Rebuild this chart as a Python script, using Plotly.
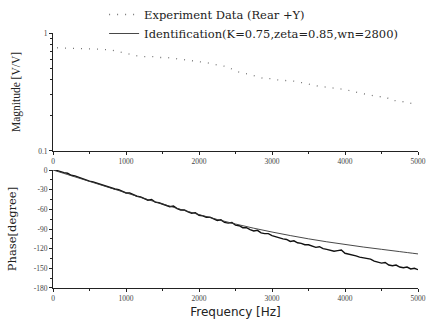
import plotly.graph_objects as go

# Magnitude experiment data
mag_freq = [55, 164, 274, 616, 781, 1151, 1233, 1370, 1466, 1562, 1644, 1877, 2014, 2110,
            2288, 2384, 2521, 2589, 2658, 2904, 3000, 3082, 3315, 3630, 3863, 4027, 4096,
            4274, 4438, 4575, 4616, 4753, 4890, 4932]
mag_exp = [0.75, 0.74, 0.74, 0.73, 0.72, 0.64, 0.63, 0.63, 0.62, 0.62, 0.61, 0.58, 0.57, 0.56,
           0.53, 0.52, 0.47, 0.46, 0.45, 0.41, 0.41, 0.40, 0.39, 0.355, 0.34, 0.33, 0.32,
           0.305, 0.29, 0.285, 0.27, 0.265, 0.255, 0.252]

# Phase experiment data, every 50 Hz
ph_freq = list(range(0, 5001, 50))
ph_exp = [1, -1, -2, -4, -5, -8, -9, -11, -14, -15,
          -17, -18, -20, -21, -24, -25, -27, -29, -30, -32,
          -35, -35, -38, -40, -41, -43, -46, -45, -49, -50,
          -52, -53, -56, -55, -59, -61, -61, -64, -66, -65,
          -69, -70, -72, -72, -75, -77, -76, -80, -81, -80,
          -84, -85, -88, -88, -91, -93, -92, -96, -97, -97,
          -100, -102, -103, -105, -106, -109, -108, -111, -112, -114,
          -114, -116, -118, -117, -120, -121, -122, -124, -123, -122,
          -127, -128, -130, -131, -133, -134, -136, -136, -139, -141,
          -142, -141, -145, -146, -145, -148, -149, -148, -151, -150, -152]

# Identification phase, every 250 Hz
id_freq = list(range(0, 5001, 250))
id_phase = [0, -8.7, -17.4, -26.1, -34.8, -43.5, -51.9, -60.2, -68, -75.5, -82.4,
            -88.8, -94.6, -100, -105, -109.5, -113.5, -117.5, -121, -124.5, -128]

x_ticks = [0, 1000, 2000, 3000, 4000, 5000]
ph_ticks = [0, -30, -60, -90, -120, -150, -180]

fig = go.Figure()
fig.add_trace(go.Scatter(x=mag_freq, y=mag_exp, mode="lines", xaxis="x", yaxis="y",
                         line=dict(color="#777", width=1.3, dash="1px,7px"),
                         name="Experiment Data (Rear +Y)"))
fig.add_trace(go.Scatter(x=ph_freq, y=ph_exp, mode="lines", xaxis="x2", yaxis="y2",
                         line=dict(color="#111", width=1.4), showlegend=False,
                         name="Experiment Data (Rear +Y)"))
fig.add_trace(go.Scatter(x=id_freq, y=id_phase, mode="lines", xaxis="x2", yaxis="y2",
                         line=dict(color="#333", width=0.9, shape="spline"),
                         name="Identification(K=0.75,zeta=0.85,wn=2800)"))

serif = "Liberation Serif, Times New Roman, serif"
wide_serif = "DejaVu Serif, serif"
tickfont = dict(family=serif, size=7.5, color="#444")
common_x = dict(range=[0, 5000], tickvals=x_ticks, ticktext=[str(v) for v in x_ticks],
                showline=True, linecolor="#222", linewidth=1, ticks="outside", ticklen=3,
                tickcolor="#222", showgrid=False, zeroline=False, tickfont=tickfont,
                automargin=False,
                minor=dict(dtick=500, ticks="outside", ticklen=2, tickcolor="#222"))

fig.update_layout(
    width=430, height=327, paper_bgcolor="white", plot_bgcolor="white",
    margin=dict(l=53, r=12, t=0, b=39),
    font=dict(family=serif, color="#222"),
    showlegend=True,
    legend=dict(x=0.14, y=1.0, xanchor="left", yanchor="top", bgcolor="rgba(0,0,0,0)",
                font=dict(family=wide_serif, size=11.5, color="#222"), itemwidth=30,
                tracegroupgap=0),
    xaxis=dict(domain=[0, 1], anchor="y", **common_x),
    yaxis=dict(domain=[0.4757, 0.8854], anchor="x", type="log", range=[-1, 0],
               tickvals=[0.1, 1], ticktext=["0.1", "1"], showline=True, linecolor="#222",
               linewidth=1, ticks="outside", ticklen=3, tickcolor="#222", showgrid=False,
               zeroline=False, tickfont=tickfont, automargin=False,
               minor=dict(tickvals=[0.2, 0.3, 0.4, 0.5, 0.6, 0.7, 0.8, 0.9], ticks="outside",
                          ticklen=2, tickcolor="#222"),
               title=dict(text="Magnitude [V/V]", font=dict(family=serif, size=11.5, color="#222"),
                          standoff=15)),
    xaxis2=dict(domain=[0, 1], anchor="y2", **common_x,
                title=dict(text="Frequency [Hz]",
                           font=dict(family="DejaVu Sans, sans-serif", size=12, color="#222"),
                           standoff=5)),
    yaxis2=dict(domain=[0, 0.4097], anchor="x2", range=[-180, 0], tickvals=ph_ticks,
                ticktext=[str(v) for v in ph_ticks], showline=True, linecolor="#222",
                linewidth=1, ticks="outside", ticklen=3, tickcolor="#222", showgrid=False,
                zeroline=False, tickfont=tickfont, automargin=False,
                minor=dict(dtick=15, ticks="outside", ticklen=2, tickcolor="#222"),
                title=dict(text="Phase[degree]", font=dict(family=wide_serif, size=11.5, color="#222"),
                           standoff=14)),
)

fig.write_html("out.html", config={"displayModeBar": False},
               post_script="document.body.style.margin='0';")
